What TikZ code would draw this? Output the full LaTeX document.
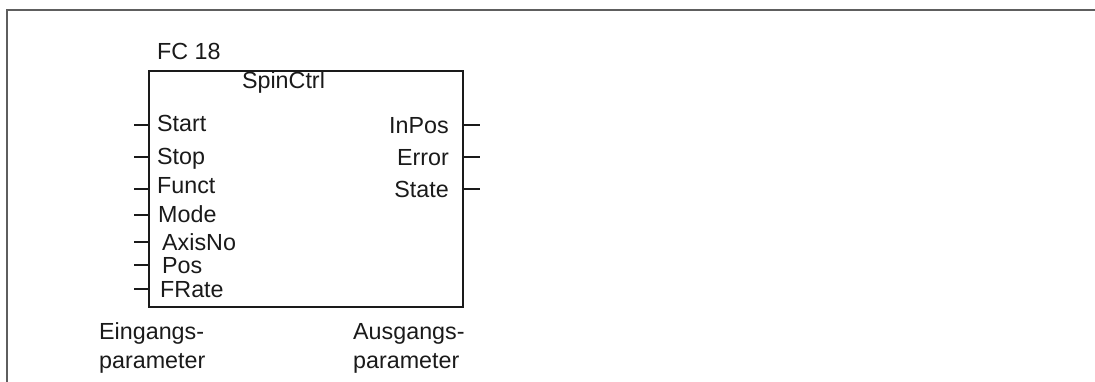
\documentclass[tikz,border=0pt]{standalone}
\usepackage{fontspec}
\setmainfont{Liberation Sans}
\definecolor{framegray}{HTML}{5E5E5E}
\definecolor{ink}{HTML}{1A1A1A}
\begin{document}
\begin{tikzpicture}[x=1pt,y=-1pt,
  lbl/.style={inner sep=0pt, text=ink, font=\fontsize{23.3}{28}\selectfont},
  inlbl/.style={lbl, anchor=base west},
  outlbl/.style={lbl, anchor=base east},
  stub/.style={draw=ink, line width=2pt},
  fbbox/.style={draw=ink, line width=2.2pt, inner sep=0pt, outer sep=0pt,
    minimum width=314pt, minimum height=236pt, anchor=north west},
  frame/.style={draw=framegray, line width=1.8pt}]
\useasboundingbox (0,0) rectangle (1095,381);
% outer frame (top and left edges)
\coordinate (fTR) at (1096,10);
\coordinate (fTL) at (7,10);
\coordinate (fBL) at (7,382);
\draw[frame] (fTR) -- (fTL) -- (fBL);
% function block
\node[fbbox] (blk) at (149,71) {};
\node[inlbl] (fc) at (157,59) {FC 18};
\node[lbl, anchor=base] (name) at (283.5,88) {SpinCtrl};
% inputs
\foreach \nm/\txt/\bx/\by/\sy in {start/Start/157/131/125, stop/Stop/157/164/157, funct/Funct/157/193/189, mode/Mode/158/222/215, axis/AxisNo/162/250/242, pos/Pos/162/273/265, frate/FRate/160/297/289}{
  \node[inlbl] (\nm) at (\bx,\by) {\txt};
  \coordinate (\nm-in) at (134,\sy);
  \draw[stub] (\nm-in) -- (blk.west |- \nm-in);
}
% outputs
\foreach \nm/\txt/\by/\sy in {inpos/InPos/133/125, error/Error/165/157, state/State/197/189}{
  \node[outlbl] (\nm) at (449,\by) {\txt};
  \coordinate (\nm-out) at (480,\sy);
  \draw[stub] (blk.east |- \nm-out) -- (\nm-out);
}
% captions
\node[inlbl] (ein1) at (99,339) {Eingangs-};
\node[inlbl] (ein2) at (99,368) {parameter};
\node[inlbl] (aus1) at (353,339) {Ausgangs-};
\node[inlbl] (aus2) at (353,368) {parameter};
\end{tikzpicture}
\end{document}
